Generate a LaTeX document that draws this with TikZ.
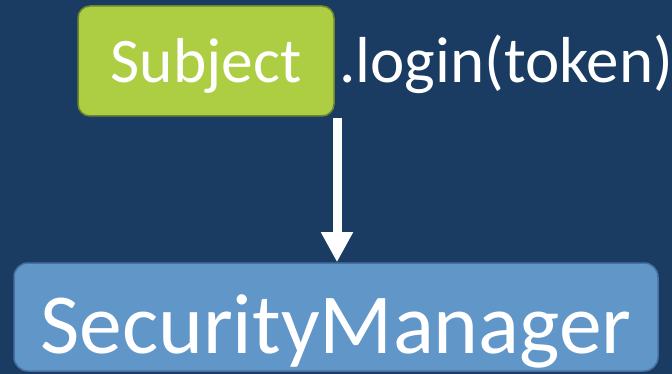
\documentclass[tikz,border=0pt]{standalone}
\usepackage{fontspec}
\setmainfont{Carlito}
\usetikzlibrary{arrows.meta}
\definecolor{slidebg}{HTML}{1B3C62}
\definecolor{limegreen}{HTML}{ADCD42}
\definecolor{limeedge}{HTML}{6E8530}
\definecolor{steelblue}{HTML}{6196C9}
\definecolor{steeledge}{HTML}{4870A0}

\begin{document}
\begin{tikzpicture}[x=1pt,y=-1pt,every node/.style={text=white, inner sep=0pt},subjbox/.style={rounded corners=12pt, fill=limegreen, draw=limeedge, line width=1.5pt, minimum width=256pt, minimum height=110pt, text height=44pt, text depth=0pt, font=\fontsize{63.5}{70}\selectfont},mgrbox/.style={rounded corners=14pt, fill=steelblue, draw=steeledge, line width=1.5pt, minimum width=644pt, minimum height=108pt, text height=72pt, text depth=0pt, font=\fontsize{85.5}{95}\selectfont},call/.style={anchor=base west, font=\fontsize{65}{76}\selectfont},flow/.style={draw=white, line width=9pt, -{Triangle[width=30pt,length=30pt]}}]
  \useasboundingbox (0,0) rectangle (672,374);
  \fill[slidebg] (0,0) rectangle (672,374);
  \node[subjbox] (subj) at (206,61) {Subject};
  \node[call] (login) at (339,83) {.login(token)};
  \node[mgrbox] (mgr) at (336,317) {SecurityManager};
  \coordinate (from) at (337,118);
  \draw[flow] (from) -- (from |- mgr.north);
\end{tikzpicture}
\end{document}
